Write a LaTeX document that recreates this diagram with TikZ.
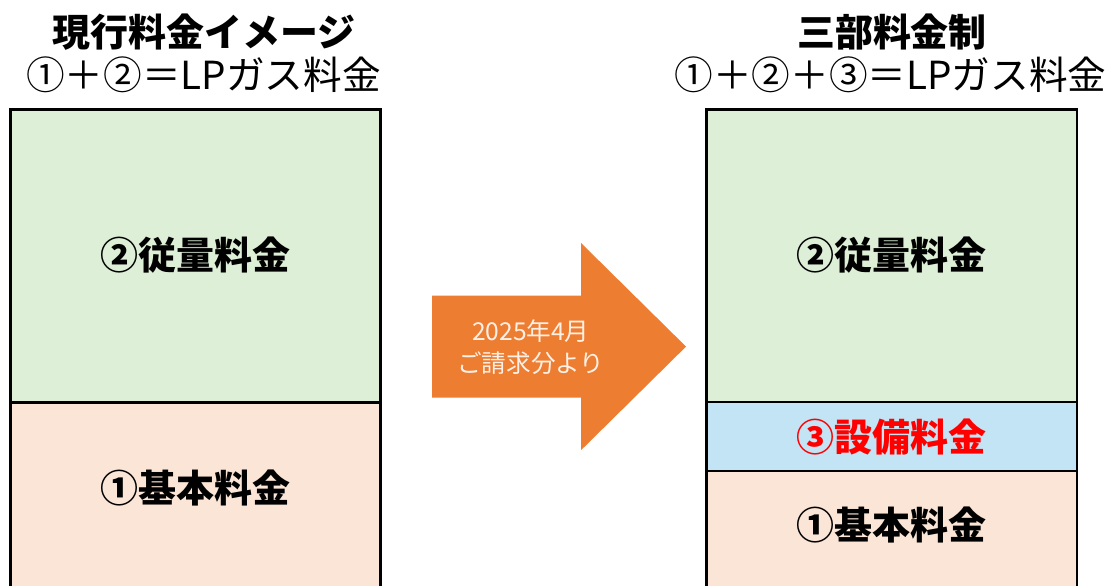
\documentclass[tikz,border=0pt]{standalone}
\usepackage{fontspec}
\setmainfont{Noto Sans CJK JP}
\usepackage{xcolor}
\definecolor{usagegreen}{HTML}{DDEFD6}
\definecolor{basepeach}{HTML}{FBE5D6}
\definecolor{equipblue}{HTML}{C2E4F5}
\definecolor{arroworange}{HTML}{ED7D31}
\definecolor{arrowtext}{HTML}{FFF0E6}
\tikzset{%
    heading/.style={font=\fontsize{27}{30}\selectfont\bfseries},
    formula/.style={font=\fontsize{27.5}{30}\selectfont},
    feename/.style={font=\fontsize{27}{30}\selectfont\bfseries},
    notice/.style={text=arrowtext, align=center, font=\fontsize{17.5}{22.8}\selectfont},
    boxline/.style={line width=2pt}
}

\begin{document}
\begin{tikzpicture}
	\useasboundingbox (0,0) rectangle (27.85,14.625);
	% current scheme
	\fill[usagegreen] (0.26,4.56) rectangle (9.51,11.89);
	\fill[basepeach] (0.26,-0.5) rectangle (9.51,4.56);
	\draw[boxline] (0.26,-0.5) -- (0.26,11.89) -- (9.51,11.89) -- (9.51,-0.5);
	\draw[boxline] (0.26,4.56) -- (9.51,4.56);
	% three-part scheme
	\fill[usagegreen] (17.66,4.575) rectangle (26.925,11.89);
	\fill[equipblue] (17.66,2.85) rectangle (26.925,4.575);
	\fill[basepeach] (17.66,-0.5) rectangle (26.925,2.85);
	\draw[boxline] (17.66,-0.5) -- (17.66,11.89) -- (26.925,11.89) -- (26.925,-0.5);
	\draw[boxline] (17.66,4.575) -- (26.925,4.575);
	\draw[boxline] (17.66,2.85) -- (26.925,2.85);
	% arrow
	\fill[arroworange] (10.8,4.685) -- (10.8,7.235) -- (14.525,7.235) -- (14.525,8.55)
		-- (17.15,5.96) -- (14.525,3.37) -- (14.525,4.685) -- cycle;
\node[heading] (oldtitle) at (5.11,13.825) {現行料金イメージ};
\node[formula] (oldsum) at (5.09,12.75) {①＋②＝LPガス料金};
\node[heading] (newtitle) at (22.3,13.825) {三部料金制};
\node[formula] (newsum) at (22.26,12.75) {①＋②＋③＝LPガス料金};
\node[feename] (oldusage) at (4.89,8.25) {②従量料金};
\node[feename] (oldbase) at (4.89,2.425) {①基本料金};
\node[feename] (newusage) at (22.29,8.25) {②従量料金};
\node[feename,text=red] (newequip) at (22.29,3.71) {③設備料金};
\node[feename] (newbase) at (22.29,1.5) {①基本料金};
\node[notice] (startdate) at (13.27,5.95) {2025年4月\\ご請求分より};
\end{tikzpicture}
\end{document}
